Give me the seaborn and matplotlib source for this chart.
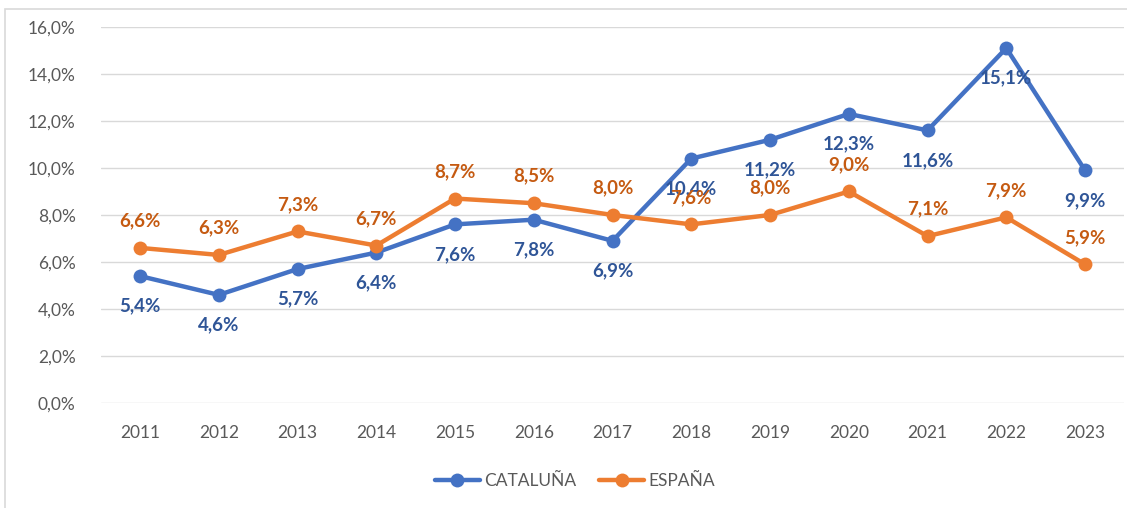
import matplotlib
matplotlib.use("Agg")
import matplotlib.pyplot as plt
from matplotlib.patches import Rectangle
import seaborn as sns
import pandas as pd

years = [2011, 2012, 2013, 2014, 2015, 2016, 2017, 2018, 2019, 2020, 2021, 2022, 2023]
cataluna = [5.4, 4.6, 5.7, 6.4, 7.6, 7.8, 6.9, 10.4, 11.2, 12.3, 11.6, 15.1, 9.9]
espana = [6.6, 6.3, 7.3, 6.7, 8.7, 8.5, 8.0, 7.6, 8.0, 9.0, 7.1, 7.9, 5.9]
series_names = ["CATALUÑA", "ESPAÑA"]
y_ticks = [0, 2, 4, 6, 8, 10, 12, 14, 16]

line_colors = {"CATALUÑA": "#4472C4", "ESPAÑA": "#ED7D31"}
label_colors = {"CATALUÑA": "#2F5597", "ESPAÑA": "#C55A11"}
label_offsets = {"CATALUÑA": -30, "ESPAÑA": 27}

df = pd.DataFrame({
    "year": years * 2,
    "value": cataluna + espana,
    "serie": [series_names[0]] * len(years) + [series_names[1]] * len(years),
})

sns.set_theme(style="white")
plt.rcParams["font.family"] = ["Lato", "DejaVu Sans"]

fig = plt.figure(figsize=(11.27, 5.08), dpi=100)
ax = fig.add_axes([0.0893, 0.2067, 0.9084, 0.7402])

# outer chart frame
fig.patches.append(Rectangle((5 / 1127, -0.1), 1.2, 1 - 9 / 508 + 0.1,
                             transform=fig.transFigure, fill=False,
                             edgecolor="#D9D9D9", linewidth=1.2, zorder=0))

sns.lineplot(data=df, x="year", y="value", hue="serie", hue_order=series_names,
             palette=line_colors, marker="o", markersize=10, markeredgewidth=0,
             linewidth=3.2, ax=ax, legend=True)

for name, vals in zip(series_names, [cataluna, espana]):
    for x, v in zip(years, vals):
        ax.annotate(f"{v:.1f}%".replace(".", ","), (x, v),
                    xytext=(0, label_offsets[name]), textcoords="offset pixels",
                    ha="center", va="center", fontsize=13.5, fontweight="bold",
                    color=label_colors[name], zorder=5)

ax.set_xlim(years[0] - 0.5, years[-1] + 0.5)
ax.set_ylim(0, 16)
ax.set_yticks(y_ticks)
ax.set_yticklabels([f"{t:.1f}%".replace(".", ",") for t in y_ticks])
ax.set_xticks(years)
ax.set_xticklabels([str(y) for y in years])
ax.tick_params(axis="both", labelsize=12.5, colors="#595959", length=0)
ax.tick_params(axis="y", pad=18)
ax.tick_params(axis="x", pad=16)
ax.grid(axis="y", color="#D9D9D9", linewidth=1)
ax.set_axisbelow(True)
for s in ax.spines.values():
    s.set_visible(False)
ax.set_xlabel("")
ax.set_ylabel("")

handles, labels = ax.get_legend_handles_labels()
leg = ax.legend(handles, labels, loc="center", bbox_to_anchor=(575 / 1127, 1 - 481 / 508),
                bbox_transform=fig.transFigure, ncol=2, frameon=False,
                fontsize=12.5, handlelength=2.6, columnspacing=1.3, handletextpad=0.25)
for t in leg.get_texts():
    t.set_color("#595959")

fig.savefig("out.png", dpi=100)
